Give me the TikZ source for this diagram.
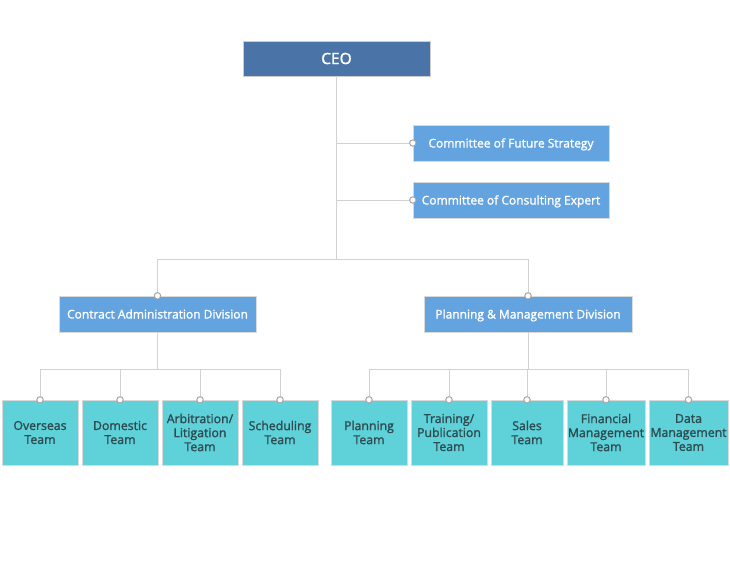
\documentclass[tikz,border=0pt]{standalone}
\usepackage{fontspec}
\setmainfont{Open Sans}
\newfontfamily\semib{Open Sans}[RawFeature={embolden=1.5}]
\usepackage{xcolor}
\usetikzlibrary{positioning}
\definecolor{ceoblue}{HTML}{4A73A8}
\definecolor{boxblue}{HTML}{62A3E0}
\definecolor{teamcyan}{HTML}{5ED1D9}
\definecolor{teamtext}{HTML}{2E4B50}
\definecolor{linegray}{HTML}{D2D2D2}

\begin{document}
\begin{tikzpicture}[
  x=1pt, y=-1pt,
  head/.style={
    rectangle,
    draw=black!20,
    fill=ceoblue,
    minimum width=187pt,
    minimum height=35pt,
    text=white,
    font=\semib\fontsize{15.5}{17}\selectfont
  },
  unit/.style={
    rectangle,
    draw=black!15,
    fill=boxblue,
    minimum width=#1,
    minimum height=36pt,
    text=white,
    text height=9.5pt,
    text depth=0.5pt,
    font=\semib\fontsize{12}{14}\selectfont
  },
  team/.style={
    rectangle,
    draw=black!15,
    fill=teamcyan,
    minimum width=#1,
    minimum height=65pt,
    text=teamtext,
    align=center,
    font=\semib\fontsize{12.3}{14}\selectfont,
    inner sep=1pt
  },
  link/.style={
    draw=linegray,
    line width=0.9pt
  },
  dot/.style={
    draw=black!35,
    fill=white,
    line width=1pt
  }
]
\useasboundingbox (0,0) rectangle (730,570);

% CEO and committees
\node[head] (ceo) at (336.5,58.5) {CEO};
\node[unit=196pt] (cfs) at (511,143) {Committee of Future Strategy};
\node[unit=196pt] (cce) at (511,200) {Committee of Consulting Expert};

% Divisions
\node[unit=197pt] (cad) at (157.5,314) {Contract Administration Division};
\node[unit=208pt] (pmd) at (528,314) {Planning \& Management Division};

% Teams under Contract Administration
\node[team=76pt] (ovs) at (40,432.5) {Overseas\\Team};
\node[team=76pt] (dom) at (120,432.5) {Domestic\\Team};
\node[team=76pt] (arb) at (200,432.5) {Arbitration/\\Litigation\\Team};
\node[team=76pt] (sch) at (280,432.5) {Scheduling\\Team};

% Teams under Planning & Management
\node[team=76pt] (pln) at (369,432.5) {Planning\\Team};
\node[team=76pt] (trn) at (449,432.5) {Training/\\Publication\\Team};
\node[team=72pt] (sal) at (527,432.5) {Sales\\Team};
\node[team=78pt] (fin) at (606,432.5) {Financial\\Management\\Team};
\node[team=79pt] (dat) at (688.5,432.5) {Data\\Management\\Team};

% Connectors
\coordinate (bus) at (336.5,259);
\coordinate (cadbus) at (157.5,369);
\coordinate (pmdbus) at (528,369);

\draw[link] (ceo.south) -- (bus);
\draw[link] (ceo.south) |- (cfs.west);
\draw[link] (ceo.south) |- (cce.west);
\draw[link] (bus) -| (cad.north);
\draw[link] (bus) -| (pmd.north);

\draw[link] (cad.south) -- (cadbus);
\draw[link] (pmd.south) -- (pmdbus);
\foreach \t in {ovs,dom,arb,sch}
  \draw[link] (cadbus) -| (\t.north);
\foreach \t in {pln,trn,sal,fin,dat}
  \draw[link] (pmdbus) -| (\t.north);

% Joint markers
\foreach \p in {cfs.west,cce.west,cad.north,pmd.north,ovs.north,dom.north,arb.north,sch.north,pln.north,trn.north,sal.north,fin.north,dat.north}
  \draw[dot] (\p) circle (3.2pt);
\end{tikzpicture}
\end{document}
